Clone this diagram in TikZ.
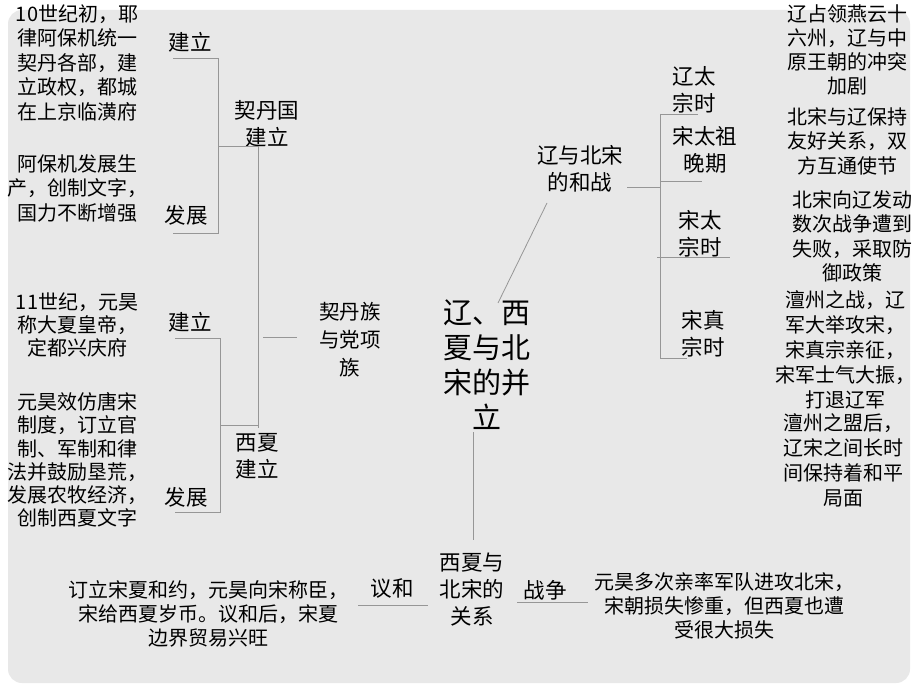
\documentclass[tikz,border=0pt]{standalone}
\usepackage{fontspec}
\setmainfont{Noto Sans CJK SC}
\definecolor{bgc}{RGB}{232,232,232}
\definecolor{lnc}{RGB}{150,150,150}
\tikzset{
  desc/.style={align=center, inner sep=0pt, font=\fontsize{20}{24.5}\selectfont},
  lab/.style={align=center, inner sep=0pt, font=\fontsize{21.5}{27}\selectfont},
  ttl/.style={align=center, inner sep=0pt, font=\fontsize{29}{35}\selectfont},
  conn/.style={draw=lnc, line width=0.8pt}
}
\begin{document}
\begin{tikzpicture}[x=1pt,y=-1pt]
\useasboundingbox (0,0) rectangle (920,690);
\fill[white] (0,0) rectangle (920,690);
\fill[bgc, rounded corners=14pt] (8,10) rectangle (910,683);

% centre title
\node[ttl] (title) at (487,364.5) {辽、西\\夏与北\\宋的并\\立};

% left: Khitan
\node[desc] (d1) at (77,62.5) {10世纪初，耶\\律阿保机统一\\契丹各部，建\\立政权，都城\\在上京临潢府};
\node[desc] (d2) at (77,188) {阿保机发展生\\产，创制文字，\\国力不断增强};
\node[lab] (kjl) at (190,42) {建立};
\node[lab] (kfz) at (186,215) {发展};
\node[lab] (kdg) at (267,123.5) {契丹国\\建立};

% left: Xixia
\node[desc, font=\fontsize{20}{23}\selectfont] (d3) at (77,325) {11世纪，元昊\\称大夏皇帝，\\定都兴庆府};
\node[desc, font=\fontsize{20}{23.2}\selectfont] (d4) at (77,460) {元昊效仿唐宋\\制度，订立官\\制、军制和律\\法并鼓励垦荒，\\发展农牧经济，\\创制西夏文字};
\node[lab] (xjl) at (190,322) {建立};
\node[lab] (xfz) at (186,497) {发展};
\node[lab] (xxjl) at (257,456.5) {西夏\\建立};

\node[lab, font=\fontsize{20.5}{28}\selectfont] (qd) at (350,340) {契丹族\\与党项\\族};

% right: Liao and Song
\node[lab] (lys) at (580,168.5) {辽与北宋\\的和战};
\node[lab] (p1) at (694,90) {辽太\\宗时};
\node[lab] (p2) at (705,150) {宋太祖\\晚期};
\node[lab] (p3) at (700,233.5) {宋太\\宗时};
\node[lab] (p4) at (703,334) {宋真\\宗时};
\node[desc, font=\fontsize{20}{24}\selectfont] (r1) at (847,49.5) {辽占领燕云十\\六州，辽与中\\原王朝的冲突\\加剧};
\node[desc] (r2) at (847,141) {北宋与辽保持\\友好关系，双\\方互通使节};
\node[desc] (r3) at (852,236.5) {北宋向辽发动\\数次战争遭到\\失败，采取防\\御政策};
\node[desc, font=\fontsize{20}{25}\selectfont] (r4) at (845,350) {澶州之战，辽\\军大举攻宋，\\宋真宗亲征，\\宋军士气大振，\\打退辽军};
\node[desc, font=\fontsize{20}{25}\selectfont] (r5) at (843,460.5) {澶州之盟后，\\辽宋之间长时\\间保持着和平\\局面};

% bottom: Xixia and Song
\node[lab] (xs) at (472,590) {西夏与\\北宋的\\关系};
\node[lab] (zz) at (545,590) {战争};
\node[desc, font=\fontsize{20}{24}\selectfont] (bz) at (724,606) {元昊多次亲率军队进攻北宋，\\宋朝损失惨重，但西夏也遭\\受很大损失};
\node[lab] (yh) at (392,588) {议和};
\node[desc, font=\fontsize{20}{24}\selectfont] (by) at (208,614) {订立宋夏和约，元昊向宋称臣，\\宋给西夏岁币。议和后，宋夏\\边界贸易兴旺};

% connector points
\coordinate (a1) at (173,58);  \coordinate (a2) at (218,58);
\coordinate (a3) at (218,233); \coordinate (a4) at (173,233);
\coordinate (a5) at (218,146); \coordinate (a6) at (258,146);
\coordinate (a7) at (258,428);
\coordinate (b1) at (175,338); \coordinate (b2) at (220,338);
\coordinate (b3) at (220,512); \coordinate (b4) at (175,512);
\coordinate (b5) at (220,425); \coordinate (b6) at (258,425);
\coordinate (c1) at (263,337); \coordinate (c2) at (297,337);
\coordinate (t1) at (498,303); \coordinate (t2) at (547,203);
\coordinate (t3) at (473,432); \coordinate (t4) at (473,540);
\coordinate (e1) at (627,187); \coordinate (e2) at (660,187);
\coordinate (e3) at (660,114); \coordinate (e4) at (660,358);
\coordinate (f1) at (698,114); \coordinate (f2) at (660,181);
\coordinate (f3) at (702,181); \coordinate (f4) at (657,257);
\coordinate (f5) at (730,257); \coordinate (f6) at (687,358);
\coordinate (g1) at (517,602); \coordinate (g2) at (588,602);
\coordinate (h1) at (358,605); \coordinate (h2) at (428,605);

\draw[conn] (a1) -- (a2) -- (a3) -- (a4);
\draw[conn] (a5) -- (a6) -- (a7);
\draw[conn] (b1) -- (b2) -- (b3) -- (b4);
\draw[conn] (b5) -- (b6);
\draw[conn] (c1) -- (c2);
\draw[conn] (t1) -- (t2);
\draw[conn] (t3) -- (t4);
\draw[conn] (e1) -- (e2);
\draw[conn] (e3) -- (e4);
\draw[conn] (e3) -- (f1);
\draw[conn] (f2) -- (f3);
\draw[conn] (f4) -- (f5);
\draw[conn] (e4) -- (f6);
\draw[conn] (g1) -- (g2);
\draw[conn] (h1) -- (h2);
\end{tikzpicture}
\end{document}
